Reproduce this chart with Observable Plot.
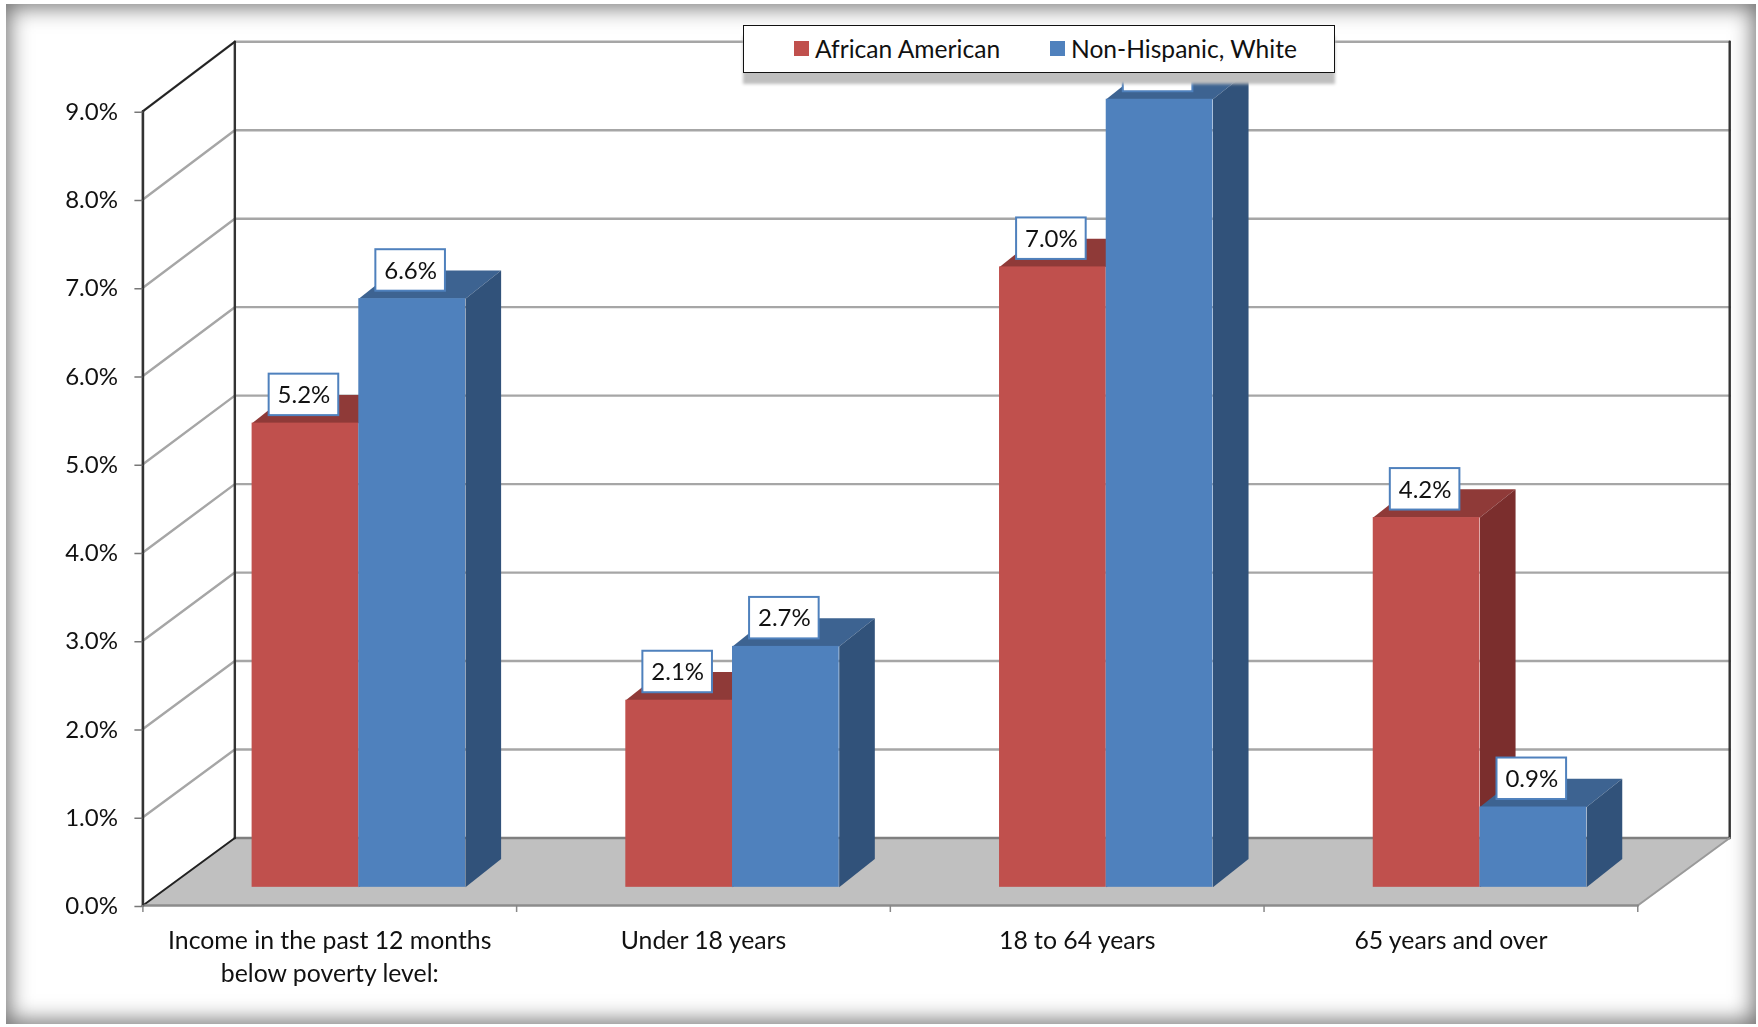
<!DOCTYPE html>
<html>
<head>
<meta charset="utf-8">
<script src="https://cdn.jsdelivr.net/npm/d3@7"></script>
<script src="https://cdn.jsdelivr.net/npm/@observablehq/plot@0.6"></script>
<style>
html,body{margin:0;padding:0;background:#fff;width:1758px;height:1027px;overflow:hidden;font-family:Lato,sans-serif}
#chart{position:absolute;left:0;top:0;filter:blur(0.5px)}
#frame{position:absolute;left:6px;top:4px;width:1750px;height:1020px;box-shadow:inset 0 0 22px 3px #6e6e6e;pointer-events:none}
#legend{position:absolute;left:743px;top:25px;width:592px;height:48px;box-sizing:border-box;background:#fff;border:1.5px solid #111;box-shadow:0 11px 3px 0 #bfbfbf;font-size:24.6px;color:#111}
#legend span{position:absolute;top:calc(50% - 1.5px);transform:translateY(-50%);white-space:nowrap}
#legend i{position:absolute;top:15px;width:15px;height:15px}
</style>
</head>
<body>
<div id="chart"></div>
<div id="frame"></div>
<div id="legend"></div>
<script>
const categories = ["Income in the past 12 months\nbelow poverty level:", "Under 18 years", "18 to 64 years", "65 years and over"];
const africanAmerican = [5.26, 2.12, 7.03, 4.19];
const nonHispanicWhite = [6.67, 2.73, 8.93, 0.91];
const africanLabels = ["5.2%", "2.1%", "7.0%", "4.2%"];
const whiteLabels = ["6.6%", "2.7%", null, "0.9%"]; // third label is hidden behind the legend
const seriesNames = ["African American", "Non-Hispanic, White"];
const yTicks = [0, 1, 2, 3, 4, 5, 6, 7, 8, 9];
const xTicks = [0, 1, 2, 3, 4];

const red = "#c0504d", redTop = "#8f3a38", redSide = "#7b2e2d";
const blue = "#4f81bd", blueTop = "#3d6391", blueSide = "#31527a";

// oblique-projection constants, in scale units
const wallDX = 0.246, wallDY = 0.765, wallScale = 1.0025;
const barBase = 0.206, barDX = 0.0953, barDY = 0.32;
const barStart = 0.2922, barW = 0.2855;
const boxHX = 0.0931, boxHY = 0.235, boxLift = 0.32, labelShift = -0.004;

function faces(values, offset) {
  const top = [], side = [], front = [];
  values.forEach((v, i) => {
    const x0 = i + barStart + offset * barW, x1 = x0 + barW, y1 = v + barBase;
    front.push({x1: x0, x2: x1, y1: barBase, y2: y1});
    [[x0, y1], [x0 + barDX, y1 + barDY], [x1 + barDX, y1 + barDY], [x1, y1]]
      .forEach(p => top.push({x: p[0], y: p[1], id: i}));
    [[x1, y1], [x1 + barDX, y1 + barDY], [x1 + barDX, barBase + barDY], [x1, barBase]]
      .forEach(p => side.push({x: p[0], y: p[1], id: i}));
  });
  return {top, side, front};
}
const R = faces(africanAmerican, 0), B = faces(nonHispanicWhite, 1);

const labels = [
  ...africanAmerican.map((v, i) => ({v, t: africanLabels[i], xc: i + barStart + barW * 0.5 + labelShift})),
  ...nonHispanicWhite.map((v, i) => ({v, t: whiteLabels[i], xc: i + barStart + barW * 1.5 + labelShift}))
];
const poly = (d, color) => Plot.line(d, {x: "x", y: "y", z: "id", fill: color, stroke: "none"});
const xEnd = 4;
const wallY = v => v * wallScale + wallDY;
const floorPts = [[0, 0], [xEnd, 0], [xEnd + wallDX, wallDY], [wallDX, wallDY]].map(p => ({x: p[0], y: p[1], id: 0}));
const gridValues = yTicks.slice(1);
const gridSegs = gridValues.flatMap(v => [
  {x: 0, y: v, id: v}, {x: wallDX, y: wallY(v), id: v}, {x: xEnd + wallDX, y: wallY(v), id: v}
]);
const edge = (pts) => pts.map(p => ({x: p[0], y: p[1]}));

const chart = Plot.plot({
  width: 1758, height: 1027,
  marginLeft: 142.4, marginRight: 28.8, marginTop: 0, marginBottom: 122,
  style: {background: "transparent", fontFamily: "Lato, sans-serif"},
  x: {domain: [0, xEnd + wallDX], axis: null},
  y: {domain: [0, 10.255], axis: null},
  marks: [
    // walls
    Plot.line(gridSegs, {x: "x", y: "y", z: "id", stroke: "#a6a6a6", strokeWidth: 2.4}),
    poly(floorPts, "#c0c0c0"),
    Plot.line(edge([[wallDX, wallDY], [xEnd + wallDX, wallDY]]), {x: "x", y: "y", stroke: "#7f7f7f", strokeWidth: 2.4}),
    Plot.line(edge([[wallDX, wallDY], [wallDX, wallY(9)]]), {x: "x", y: "y", stroke: "#333", strokeWidth: 2.4}),
    Plot.line(edge([[xEnd + wallDX, wallDY], [xEnd + wallDX, wallY(9)]]), {x: "x", y: "y", stroke: "#333", strokeWidth: 2.4}),
    Plot.line(edge([[0, 0], [wallDX, wallDY]]), {x: "x", y: "y", stroke: "#222", strokeWidth: 2}),
    Plot.line(edge([[0, 9], [wallDX, wallY(9)]]), {x: "x", y: "y", stroke: "#222", strokeWidth: 2}),
    Plot.line(edge([[xEnd, 0], [xEnd + wallDX, wallDY]]), {x: "x", y: "y", stroke: "#9a9a9a", strokeWidth: 2}),
    Plot.line(edge([[0, 0], [xEnd, 0]]), {x: "x", y: "y", stroke: "#8c8c8c", strokeWidth: 2.6}),
    Plot.line(edge([[0, 0], [0, 9]]), {x: "x", y: "y", stroke: "#333", strokeWidth: 2.6}),
    // bars
    poly(R.top, redTop), poly(R.side, redSide),
    Plot.rect(R.front, {x1: "x1", x2: "x2", y1: "y1", y2: "y2", fill: red}),
    poly(B.top, blueTop), poly(B.side, blueSide),
    Plot.rect(B.front, {x1: "x1", x2: "x2", y1: "y1", y2: "y2", fill: blue}),
    // data labels
    Plot.rect(labels, {
      x1: d => d.xc - boxHX, x2: d => d.xc + boxHX,
      y1: d => d.v + barBase + boxLift - boxHY, y2: d => d.v + barBase + boxLift + boxHY,
      fill: "#fff", stroke: blue, strokeWidth: 2
    }),
    Plot.text(labels.filter(d => d.t), {
      x: "xc", y: d => d.v + barBase + boxLift,
      text: "t", fontSize: 24, fill: "#111", dy: 0.5
    }),
    // axes
    Plot.axisY({ticks: yTicks, tickFormat: d => d.toFixed(1) + "%", tickSize: 8, tickPadding: 17, fontSize: 24, stroke: "#777", color: "#111", strokeWidth: 1.5, label: null, dy: 1}),
    Plot.axisX({ticks: xTicks, tickFormat: () => "", tickSize: 7, stroke: "#888", strokeWidth: 1.5, label: null}),
    Plot.text(categories, {
      x: (d, i) => i + 0.5, y: 0, text: d => d, dy: 20, frameAnchor: null,
      lineAnchor: "top", lineHeight: 1.33, fontSize: 24.8, fill: "#111", textAnchor: "middle"
    })
  ]
});
document.getElementById("chart").appendChild(chart);

const lg = document.getElementById("legend");
[[50, red, 71, seriesNames[0]], [306, blue, 327, seriesNames[1]]].forEach(([sx, c, tx, name]) => {
  const sw = document.createElement("i");
  sw.style.left = sx + "px"; sw.style.background = c; lg.appendChild(sw);
  const t = document.createElement("span");
  t.style.left = tx + "px"; t.textContent = name; lg.appendChild(t);
});
</script>
</body>
</html>
